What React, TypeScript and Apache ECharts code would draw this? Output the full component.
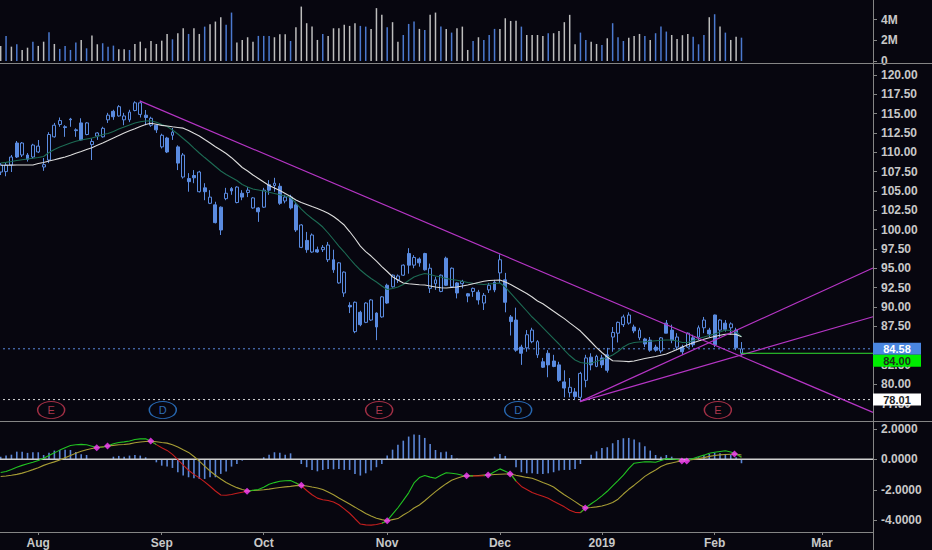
import React, { useEffect, useRef } from "react";
import * as echarts from "echarts";

// ---------- categories (trading sessions + future weekdays) ----------
const marketHolidays = ["2018-09-03", "2018-11-22", "2018-12-05", "2018-12-25", "2019-01-01", "2019-01-21"];
function buildSessions(): string[] {
  const out: string[] = [];
  const d = new Date(Date.UTC(2018, 6, 23));
  const end = Date.UTC(2019, 2, 14);
  while (d.getTime() <= end) {
    const wd = d.getUTCDay();
    const s = d.toISOString().slice(0, 10);
    if (wd !== 0 && wd !== 6 && !marketHolidays.includes(s)) out.push(s);
    d.setUTCDate(d.getUTCDate() + 1);
  }
  return out;
}
const categories = buildSessions();
const monthNames = ["Jan", "Feb", "Mar", "Apr", "May", "Jun", "Jul", "Aug", "Sep", "Oct", "Nov", "Dec"];

// ---------- price data [open, close, low, high] ----------
const ohlc = [
  [107.45,108.35,107.06,108.61],[107.5,108.35,106.9,108.7],[108.35,109.39,107.45,109.65],[111.2,109.39,109.26,111.46],[109.65,111.2,109.39,111.33],
  [109.65,109.1,108.8,109.9],[109.39,110.94,109.2,111.1],[110.04,110.8,109.9,111.59],[108.1,108.4,107.6,109.26],[109.0,112.3,108.6,112.6],
  [112.0,113.5,111.9,113.8],[113.6,114.1,113.3,114.5],[113.3,113.2,112.0,113.5],[114.3,114.2,113.3,114.45],[112.9,112.8,112.0,113.1],
  [113.8,111.6,111.5,114.4],[112.3,113.8,112.2,113.9],[111.0,111.4,109.0,111.8],[112.1,112.5,111.6,112.6],[112.0,113.1,111.9,113.3],
  [114.2,114.8,113.8,115.1],[115.3,114.6,114.2,115.5],[114.7,115.9,114.6,116.1],[114.2,114.7,113.5,115.1],[114.2,115.2,113.9,115.5],
  [115.4,116.4,115.3,116.6],[114.9,116.4,114.5,116.65],[114.8,114.5,113.5,115.47],[113.5,114.4,113.3,114.6],[113.5,112.9,112.5,113.6],
  [110.7,112.2,110.5,112.4],[111.85,110.04,109.9,112.0],[112.2,112.6,111.6,113.14],[110.7,108.6,107.7,110.9],[106.8,109.65,106.6,109.9],
  [106.6,106.2,104.9,107.3],[107.0,106.7,106.0,107.7],[104.9,107.45,104.8,107.6],[105.4,104.9,103.8,106.0],[103.4,104.2,103.3,105.1],
  [103.2,100.9,100.8,103.6],[102.9,99.95,99.3,103.0],[104.0,104.7,103.8,105.4],[105.3,105.0,104.5,105.5],[103.5,105.5,103.4,105.6],
  [104.7,104.2,103.8,105.1],[104.8,105.1,104.2,105.5],[102.8,104.1,102.7,104.2],[102.8,102.3,101.0,102.9],[102.9,105.1,102.8,105.4],
  [105.8,105.1,104.5,106.4],[105.7,106.0,104.9,106.7],[105.6,103.4,103.2,106.0],[103.7,104.2,103.4,104.5],[104.2,102.8,102.6,104.5],
  [103.2,99.95,99.7,103.6],[97.7,100.6,97.6,100.7],[98.6,97.4,97.0,99.7],[97.1,99.3,97.0,99.5],[97.4,97.1,97.0,97.8],
  [97.4,97.7,97.1,98.0],[96.1,98.0,95.8,98.4],[96.1,94.8,94.4,97.4],[93.1,95.7,93.0,95.8],[91.8,94.5,91.3,94.6],
  [90.2,90.0,89.2,90.6],[86.8,90.6,86.6,90.7],[89.3,87.7,87.5,89.5],[88.0,90.5,87.9,90.6],[88.3,90.9,88.2,91.0],
  [89.2,87.4,85.7,89.3],[88.7,91.3,88.6,91.4],[92.8,90.5,90.4,93.0],[92.6,94.1,92.5,94.2],[93.5,94.0,93.1,94.2],
  [94.1,95.4,94.0,95.5],[96.9,95.4,94.3,97.6],[95.4,96.4,95.0,96.7],[96.2,95.7,95.2,96.4],[96.9,94.8,94.7,97.0],
  [92.4,95.0,91.8,95.6],[93.0,93.5,92.2,93.9],[92.0,94.1,91.9,94.2],[96.3,92.8,92.7,96.5],[92.6,95.0,92.5,95.1],
  [93.1,91.8,91.1,93.2],[93.0,93.3,92.4,93.5],[91.7,91.4,90.6,91.8],[92.0,92.4,91.3,92.5],[91.9,90.9,90.3,92.2],
  [90.5,91.5,89.6,91.8],[92.2,92.8,91.8,93.1],[93.2,92.2,91.9,93.5],[94.4,96.1,93.1,96.8],[93.5,90.6,89.3,94.4],
  [88.7,88.1,86.3,88.95],[88.3,84.4,84.2,89.9],[84.8,84.0,82.5,85.1],[84.7,86.4,84.2,87.0],[85.5,87.0,85.3,87.3],
  [83.8,85.5,83.4,85.7],[82.9,82.2,82.1,83.4],[84.0,82.5,80.9,84.4],[83.0,82.3,82.2,83.8],[82.5,80.5,80.3,82.9],
  [80.3,79.5,78.3,81.8],[78.9,79.6,78.3,80.8],[79.0,78.4,78.01,79.5],[78.3,81.4,77.8,81.6],[80.5,83.4,79.6,83.8],
  [83.5,82.5,81.8,84.0],[82.3,83.6,82.2,83.8],[83.4,82.5,82.1,83.8],[83.8,81.8,81.5,84.7],[86.1,86.7,84.2,87.4],
  [86.6,88.0,85.4,88.1],[87.7,88.7,87.4,89.0],[87.9,88.95,87.7,89.3],[87.4,86.9,86.6,87.7],[86.0,87.0,85.7,87.3],
  [85.85,85.2,84.8,86.0],[85.7,84.4,84.2,86.1],[84.8,84.4,84.2,85.1],[84.3,86.0,84.0,86.1],[87.9,86.6,86.6,88.3],
  [87.0,85.7,85.3,87.7],[84.8,86.1,84.4,86.6],[84.8,84.2,83.8,85.1],[84.8,86.6,84.7,86.7],[86.0,85.1,84.8,86.4],
  [86.1,87.3,85.7,87.6],[87.3,88.3,86.6,88.7],[87.0,86.5,86.1,87.3],[88.95,85.1,84.8,89.0],[87.0,88.3,86.1,88.4],
  [87.9,87.1,86.8,88.3],[87.3,87.8,86.4,88.0],[87.0,84.7,84.4,87.3],[84.0,84.58,83.7,85.45],
];

const maFast = [
  108.61,108.70,108.81,108.94,109.04,109.13,109.22,109.32,109.45,109.97,
  110.36,110.68,110.94,111.20,111.42,111.59,111.72,111.85,112.04,112.30,
  112.43,112.69,113.01,113.27,113.53,113.79,113.96,114.05,114.07,113.88,
  113.59,113.34,112.88,112.36,111.78,111.20,110.55,109.91,109.32,108.74,
  108.16,107.58,107.13,106.74,106.35,105.83,105.51,105.25,105.12,104.99,
  104.82,104.67,104.50,104.34,104.15,103.44,102.66,102.01,101.43,100.92,
  100.33,99.56,98.72,97.87,97.10,96.26,95.48,94.77,94.19,93.67,
  93.22,92.70,92.25,92.38,92.57,92.90,93.41,93.87,94.12,94.32,
  94.19,94.00,93.87,93.67,93.54,93.45,93.31,93.15,93.05,92.96,
  92.90,92.96,93.02,93.09,92.57,91.79,91.02,90.24,89.47,88.69,
  88.04,87.33,86.62,85.91,85.20,84.42,83.71,83.13,82.80,82.70,
  82.74,82.93,83.19,83.45,83.77,84.23,84.81,85.20,85.39,85.46,
  85.49,85.55,85.62,85.68,85.71,85.71,85.58,85.39,85.39,85.65,
  85.91,86.10,86.30,86.49,86.75,87.01,86.94,86.75,86.14,
];

const maSlow = [
  108.32,108.33,108.34,108.35,108.35,108.35,108.35,108.55,108.69,108.87,
  109.03,109.21,109.39,109.61,109.87,110.10,110.36,110.59,110.90,111.20,
  111.52,111.85,112.17,112.49,112.78,113.05,113.34,113.59,113.75,113.63,
  113.48,113.40,113.30,113.21,113.12,112.82,112.45,112.11,111.65,111.20,
  110.72,110.29,109.84,109.30,108.68,108.03,107.58,107.06,106.61,106.15,
  105.70,105.38,105.05,104.67,104.28,103.83,103.50,103.24,102.98,102.73,
  102.43,102.11,101.69,101.17,100.59,99.75,98.85,97.87,97.16,96.58,
  95.93,95.22,94.58,93.90,93.48,93.09,93.00,92.93,92.86,92.83,
  92.70,92.57,92.47,92.44,92.51,92.57,92.70,92.83,93.00,93.15,
  93.32,93.41,93.45,93.48,93.22,92.90,92.51,92.12,91.73,91.28,
  90.76,90.40,89.93,89.44,88.96,88.48,87.94,87.42,86.88,86.17,
  85.46,84.74,84.10,83.52,83.04,83.00,82.96,82.92,83.00,83.17,
  83.32,83.45,83.58,83.74,83.90,84.19,84.49,84.81,85.10,85.35,
  85.59,85.81,86.00,86.17,86.33,86.47,86.49,86.43,86.14,
];

// volume in millions, with direction flag (u = light bar, d = blue bar)
const volumeM = [
  1.46,2.43,1.39,1.62,1.07,1.29,1.87,1.46,1.87,2.78,
  1.65,1.17,1.46,1.07,1.78,2.04,1.23,2.46,1.62,1.72,
  1.39,1.49,1.13,1.13,1.07,1.65,1.87,1.23,1.94,1.65,
  1.97,2.62,2.10,2.69,3.17,2.62,3.17,2.62,3.33,3.56,
  3.82,4.24,3.50,4.69,1.78,2.04,2.30,1.87,2.43,2.43,
  2.43,2.30,2.59,2.59,1.94,3.27,5.27,3.66,3.33,2.04,
  2.62,2.43,3.17,3.17,3.50,3.40,3.66,3.40,3.33,3.11,
  5.12,4.47,3.27,3.76,1.87,2.52,3.59,3.82,3.11,3.01,
  4.47,4.69,3.33,3.11,2.75,3.17,3.33,1.07,1.94,2.30,
  2.04,2.52,3.11,3.11,4.14,3.88,3.91,3.33,2.52,2.52,
  2.52,2.43,2.69,2.69,2.91,3.76,4.47,1.62,2.75,2.04,
  1.87,1.65,1.55,2.20,3.66,2.30,1.94,2.26,2.43,2.62,
  2.43,2.04,2.69,3.33,2.85,2.52,2.14,2.50,2.62,2.36,
  1.62,2.52,4.24,4.53,3.33,2.75,2.04,2.36,2.26,
];
const volDir = [
  "u","d","u","d","u","u","d","u","u","d",
  "u","d","d","d","d","u","d","u","u","d",
  "d","d","u","u","d","u","u","u","u","u",
  "u","u","d","u","u","d","u","u","d","u",
  "u","u","d","d","u","u","u","u","d","d",
  "d","u","u","u","d","u","u","u","u","u",
  "d","u","u","u","u","u","u","d","d","u",
  "u","u","d","u","u","d","d","d","u","d",
  "u","u","d","u","d","u","u","u","d","u",
  "d","d","d","u","u","u","u","d","u","u",
  "u","u","d","u","u","u","u","u","d","d",
  "u","u","d","u","d","d","d","u","u","u",
  "d","u","d","d","d","u","u","u","u","d",
  "d","d","u","d","u","d","u","u","d",
];

// MACD panel
const macdHist = [
  0.17,0.24,0.30,0.50,0.50,0.42,0.46,0.46,0.28,0.42,
  0.57,0.61,0.63,0.61,0.48,0.33,0.28,0.02,0.0,0.0,
  0.01,0.17,0.22,0.17,0.24,0.28,0.24,0.13,0.0,-0.20,
  -0.42,-0.48,-0.57,-0.85,-1.07,-1.18,-1.25,-1.29,-1.29,-1.18,
  -1.18,-0.96,-0.81,-0.48,-0.31,-0.09,0.0,0.01,0.02,0.13,
  0.30,0.46,0.42,0.30,0.39,0.02,-0.31,-0.52,-0.70,-0.79,
  -0.70,-0.63,-0.66,-0.63,-0.70,-0.70,-0.96,-1.07,-0.92,-0.74,
  -0.52,-0.31,0.24,0.63,0.96,1.22,1.49,1.62,1.60,1.40,
  1.00,0.61,0.46,0.50,0.28,0.05,0.0,0.02,0.01,-0.02,
  -0.02,0.02,0.17,0.35,0.22,0.0,-0.52,-0.85,-0.92,-0.92,
  -0.96,-0.96,-0.92,-0.85,-0.74,-0.70,-0.70,-0.63,-0.31,-0.04,
  0.30,0.52,0.74,0.79,1.05,1.27,1.38,1.40,1.29,1.11,
  0.85,0.57,0.28,0.17,0.28,0.17,0.02,-0.02,-0.03,0.01,
  0.13,0.28,0.35,0.42,0.39,0.35,0.30,0.13,-0.26,
];
const macdLine = [
  -0.87,-0.80,-0.67,-0.52,-0.40,-0.30,-0.20,-0.08,0.07,0.25,
  0.42,0.60,0.76,0.90,0.95,0.98,0.95,0.86,0.77,0.80,
  0.88,1.02,1.10,1.14,1.20,1.30,1.34,1.35,1.19,0.96,
  0.76,0.58,0.32,-0.03,-0.38,-0.72,-0.99,-1.22,-1.48,-1.77,
  -2.08,-2.34,-2.36,-2.31,-2.23,-2.16,-2.09,-2.03,-1.98,-1.83,
  -1.64,-1.53,-1.44,-1.41,-1.40,-1.55,-1.73,-2.05,-2.33,-2.55,
  -2.65,-2.70,-2.80,-2.98,-3.25,-3.54,-3.90,-4.25,-4.30,-4.32,
  -4.28,-4.20,-4.03,-3.60,-3.18,-2.70,-2.20,-1.55,-1.20,-1.07,
  -1.17,-1.24,-1.05,-0.88,-0.92,-0.97,-1.05,-1.08,-1.09,-1.10,
  -1.07,-1.02,-0.82,-0.63,-0.78,-0.96,-1.43,-1.78,-1.98,-2.18,
  -2.31,-2.43,-2.56,-2.75,-2.93,-3.12,-3.34,-3.48,-3.50,-3.17,
  -2.92,-2.68,-2.40,-2.10,-1.75,-1.40,-1.04,-0.62,-0.26,-0.21,
  -0.16,-0.17,-0.20,-0.08,0.04,0.02,-0.01,-0.12,-0.05,0.05,
  0.17,0.27,0.40,0.46,0.51,0.56,0.48,0.35,0.13,
];
const signalLine = [
  -1.13,-1.10,-1.05,-0.99,-0.91,-0.80,-0.68,-0.55,-0.40,-0.28,
  -0.17,-0.05,0.10,0.25,0.40,0.52,0.63,0.71,0.77,0.82,
  0.87,0.91,0.95,0.97,1.01,1.08,1.13,1.17,1.19,1.15,
  1.10,1.06,0.95,0.80,0.62,0.45,0.18,-0.12,-0.45,-0.77,
  -1.05,-1.29,-1.52,-1.70,-1.86,-1.98,-2.07,-2.05,-2.03,-2.00,
  -1.96,-1.90,-1.85,-1.81,-1.78,-1.73,-1.71,-1.75,-1.82,-1.88,
  -1.98,-2.15,-2.33,-2.54,-2.74,-2.94,-3.14,-3.35,-3.55,-3.72,
  -3.87,-3.96,-4.03,-3.96,-3.89,-3.65,-3.45,-3.20,-3.00,-2.72,
  -2.42,-2.12,-1.85,-1.60,-1.38,-1.24,-1.13,-1.09,-1.08,-1.06,
  -1.04,-1.03,-1.00,-0.98,-0.97,-0.96,-1.05,-1.12,-1.19,-1.25,
  -1.38,-1.52,-1.65,-1.82,-2.08,-2.33,-2.55,-2.78,-3.02,-3.19,
  -3.16,-3.12,-3.07,-2.96,-2.84,-2.62,-2.28,-1.97,-1.70,-1.42,
  -1.12,-0.90,-0.70,-0.48,-0.32,-0.24,-0.16,-0.11,-0.06,-0.01,
  0.04,0.11,0.19,0.25,0.29,0.31,0.33,0.35,0.28,
];
const macdCrossings = [
  [17.9,0.76],[19.9,0.87],[27.95,1.2],[45.9,-2.1],[56.0,-1.7],[72.0,-4.03],[86.8,-1.08],
  [90.8,-1.03],[94.9,-0.96],[108.9,-3.19],[126.9,-0.11],[127.8,-0.11],[136.7,0.35],
];

// drawings on the price panel: [bar index, price]
const trendDown = [[25.9, 116.65], [162.5, 76.35]];
const trendUpSteep = [[107.9, 77.75], [162.5, 95.03]];
const trendUpShallow = [[107.9, 77.75], [162.5, 88.73]];
const lastPrice = 84.58;
const supportLevel = 84.0;
const lowLevel = 78.01;
const supportStart = 138;
const earningsIdx = [9.4, 70.5, 133.6];
const dividendIdx = [30.2, 96.4];
const eventLevel = 76.66;

// axis ticks (85.00 sits completely under the last-price tag, so only its tick shows)
const volumeTicks = [0, 2, 4];
const priceTicks = [77.5, 80, 82.5, 85, 87.5, 90, 92.5, 95, 97.5, 100, 102.5, 105, 107.5, 110, 112.5, 115, 117.5, 120];
const priceLabels = [77.5, 80, 82.5, 87.5, 90, 92.5, 95, 97.5, 100, 102.5, 105, 107.5, 110, 112.5, 115, 117.5, 120];
const macdTicks = [-4, -2, 0, 2];

const BG = "#07060f";
const BLUE = "#5a8be0";
const AXIS = "#858585";
const LABEL = "#c8c8c8";
const FONT = "Liberation Sans";
const MAGENTA = "#b535c4";

export default function App() {
  const ref = useRef<HTMLDivElement>(null);
  useEffect(() => {
    const chart = echarts.init(ref.current!, null, { renderer: "svg" });
    const n = categories.length;
    const xMin = -0.5;
    const xMax = n - 0.5;
    const monthStart = (i: number) =>
      i > 0 && categories[i].slice(0, 7) !== categories[i - 1].slice(0, 7);
    const monthLabel = (v: string) => {
      const m = +v.slice(5, 7) - 1;
      return m === 0 ? v.slice(0, 4) : monthNames[m];
    };
    const up = macdLine.map((v, i) => v >= signalLine[i]);
    const macdGreen = macdLine.map((v, i) => (up[i] || up[i + 1] || up[i - 1] ? v : null));
    const macdRed = macdLine.map((v, i) => (!up[i] || (i + 1 < up.length && !up[i + 1]) || (i > 0 && !up[i - 1]) ? v : null));

    const gridBase = { left: -2, right: 59, containLabel: false, outerBoundsMode: "none" };
    const yAxisBase = (gridIndex: number, min: number, max: number, ticks: number[], labels: number[], fmt: (v: number) => string) => ({
      type: "value",
      gridIndex,
      position: "right",
      min,
      max,
      axisLine: { show: false, onZero: false },
      axisTick: { show: true, length: 4, lineStyle: { color: AXIS }, customValues: ticks },
      axisLabel: {
        show: true,
        customValues: labels,
        formatter: fmt,
        color: LABEL,
        fontSize: 12,
        fontWeight: "bold",
        fontFamily: FONT,
        margin: 8,
      },
      splitLine: { show: false },
    });
    const hiddenCat = (gridIndex: number) => ({
      type: "category",
      gridIndex,
      data: categories,
      boundaryGap: true,
      show: false,
      axisLine: { onZero: false },
    });
    const hiddenVal = (gridIndex: number) => ({
      type: "value",
      gridIndex,
      min: xMin,
      max: xMax,
      show: false,
      axisLine: { onZero: false },
      splitLine: { show: false },
    });
    const flatLine = (level: number, from: number) => [[from, level], [xMax, level]];

    const option: any = {
      animation: false,
      backgroundColor: BG,
      grid: [
        { ...gridBase, top: 0, height: 61 },
        { ...gridBase, top: 63, height: 358 },
        { ...gridBase, top: 421, height: 111 },
      ],
      xAxis: [
        hiddenCat(0),
        hiddenCat(1),
        {
          type: "category",
          gridIndex: 2,
          data: categories,
          boundaryGap: true,
          axisLine: { show: true, onZero: false, lineStyle: { color: AXIS, width: 1 } },
          axisTick: { show: true, alignWithLabel: true, interval: (i: number) => monthStart(i), length: 3, lineStyle: { color: AXIS } },
          axisLabel: {
            interval: (i: number) => monthStart(i),
            formatter: monthLabel,
            color: LABEL,
            fontSize: 12,
            fontWeight: "bold",
            fontFamily: FONT,
            margin: 5,
          },
          splitLine: { show: false },
        },
        hiddenVal(1),
        hiddenVal(2),
      ],
      yAxis: [
        yAxisBase(0, 0, 5.908, volumeTicks, volumeTicks, (v: number) => (v === 0 ? "0" : v + "M")),
        yAxisBase(1, 75.24, 121.55, priceTicks, priceLabels, (v: number) => v.toFixed(2)),
        yAxisBase(2, -4.77, 2.51, macdTicks, macdTicks, (v: number) => v.toFixed(4)),
      ],
      series: [
        {
          type: "bar",
          xAxisIndex: 0,
          yAxisIndex: 0,
          barWidth: 1.5,
          data: volumeM.map((v, i) => ({ value: v, itemStyle: { color: volDir[i] === "u" ? "#bdbdbd" : "#4b79cf" } })),
        },
        {
          type: "candlestick",
          xAxisIndex: 1,
          yAxisIndex: 1,
          barWidth: 3.4,
          data: ohlc,
          itemStyle: { color: BG, color0: BLUE, borderColor: BLUE, borderColor0: BLUE, borderWidth: 1 },
          z: 2,
        },
        {
          type: "line",
          xAxisIndex: 1,
          yAxisIndex: 1,
          data: maFast,
          showSymbol: false,
          lineStyle: { color: "#1d6b54", width: 1.1 },
          z: 3,
        },
        {
          type: "line",
          xAxisIndex: 1,
          yAxisIndex: 1,
          data: maSlow,
          showSymbol: false,
          lineStyle: { color: "#dcdcdc", width: 1.1 },
          z: 3,
        },
        ...[trendDown, trendUpSteep, trendUpShallow].map((d) => ({
          type: "line",
          xAxisIndex: 3,
          yAxisIndex: 1,
          data: d,
          showSymbol: false,
          lineStyle: { color: MAGENTA, width: 1.2 },
          z: 4,
        })),
        {
          type: "line",
          xAxisIndex: 3,
          yAxisIndex: 1,
          data: flatLine(lastPrice, xMin),
          showSymbol: false,
          lineStyle: { color: BLUE, width: 1, type: [2, 3] },
          z: 1,
        },
        {
          type: "line",
          xAxisIndex: 3,
          yAxisIndex: 1,
          data: flatLine(lowLevel, xMin),
          showSymbol: false,
          lineStyle: { color: "#d8d8d8", width: 1, type: [2, 3] },
          z: 1,
        },
        {
          type: "line",
          xAxisIndex: 3,
          yAxisIndex: 1,
          data: flatLine(supportLevel, supportStart),
          showSymbol: false,
          lineStyle: { color: "#2fe02f", width: 1 },
          z: 4,
        },
        {
          type: "scatter",
          xAxisIndex: 3,
          yAxisIndex: 1,
          data: earningsIdx.map((i) => [i, eventLevel]),
          symbol: "circle",
          symbolSize: [27, 17],
          itemStyle: { color: "rgba(0,0,0,0)", borderColor: "#c83a52", borderWidth: 1.2 },
          label: { show: true, position: "inside", formatter: "E", color: "#d2445c", fontSize: 11, fontFamily: FONT },
          z: 5,
        },
        {
          type: "scatter",
          xAxisIndex: 3,
          yAxisIndex: 1,
          data: dividendIdx.map((i) => [i, eventLevel]),
          symbol: "circle",
          symbolSize: [27, 17],
          itemStyle: { color: "rgba(0,0,0,0)", borderColor: "#2f80d8", borderWidth: 1.2 },
          label: { show: true, position: "inside", formatter: "D", color: "#3a8ae0", fontSize: 11, fontFamily: FONT },
          z: 5,
        },
        {
          type: "bar",
          xAxisIndex: 2,
          yAxisIndex: 2,
          barWidth: 1.6,
          data: macdHist,
          itemStyle: { color: "#5b86d6" },
        },
        {
          type: "line",
          xAxisIndex: 4,
          yAxisIndex: 2,
          data: flatLine(0, xMin),
          showSymbol: false,
          lineStyle: { color: "#d0d0d0", width: 1.5 },
          z: 2,
        },
        {
          type: "line",
          xAxisIndex: 2,
          yAxisIndex: 2,
          data: signalLine,
          showSymbol: false,
          lineStyle: { color: "#a79d35", width: 1.1 },
          z: 3,
        },
        {
          type: "line",
          xAxisIndex: 2,
          yAxisIndex: 2,
          data: macdRed,
          showSymbol: false,
          connectNulls: false,
          lineStyle: { color: "#c41e1e", width: 1.1 },
          z: 4,
        },
        {
          type: "line",
          xAxisIndex: 2,
          yAxisIndex: 2,
          data: macdGreen,
          showSymbol: false,
          connectNulls: false,
          lineStyle: { color: "#22c322", width: 1.1 },
          z: 5,
        },
        {
          type: "scatter",
          xAxisIndex: 4,
          yAxisIndex: 2,
          data: macdCrossings,
          symbol: "diamond",
          symbolSize: 7,
          itemStyle: { color: "#ff3dff" },
          z: 6,
        },
      ],
    };
    chart.setOption(option);

    const py = (v: number) => chart.convertToPixel({ yAxisIndex: 1 }, v) as number;
    const h = 12;
    const yLast = py(lastPrice);
    const ySup = Math.max(py(supportLevel) - h / 2, yLast + h / 2) + h / 2;
    const yLow = py(lowLevel);
    const box = (cy: number, bg: string, fg: string, txt: string) => [
      { type: "rect", z: 200, zlevel: 0, shape: { x: 873, y: cy - h / 2, width: 48, height: h }, style: { fill: bg } },
      {
        type: "text",
        z: 201,
        zlevel: 0,
        x: 897,
        y: cy,
        style: {
          text: txt,
          fill: fg,
          font: `bold 11px "${FONT}"`,
          lineHeight: 11,
          textAlign: "center",
          textVerticalAlign: "middle",
          align: "center",
          verticalAlign: "middle",
        },
      },
    ];
    const sep = (x1: number, y1: number, x2: number, y2: number) => ({
      type: "line",
      z: 50,
      shape: { x1, y1, x2, y2 },
      style: { stroke: AXIS, lineWidth: 1 },
    });
    chart.setOption({
      graphic: [
        sep(0, 63.5, 932, 63.5),
        sep(0, 421.5, 932, 421.5),
        sep(873.5, 0, 873.5, 550),
        ...box(yLast, "#4a86e0", "#ffffff", lastPrice.toFixed(2)),
        ...box(ySup, "#00ee00", "#1c2e1c", supportLevel.toFixed(2)),
        ...box(yLow, "#ffffff", "#222222", lowLevel.toFixed(2)),
      ],
    });
    return () => chart.dispose();
  }, []);
  return <div ref={ref} style={{ position: "fixed", left: 0, top: 0, width: 932, height: 550, background: BG }} />;
}
